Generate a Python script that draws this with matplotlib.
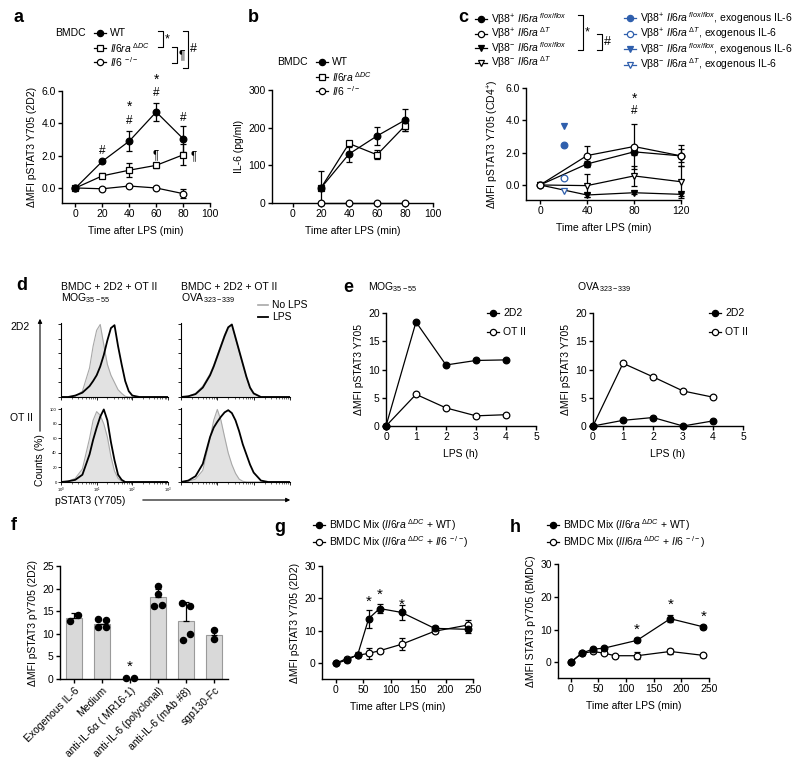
import numpy as np
import matplotlib.pyplot as plt

plt.rcParams['font.family'] = ['Liberation Sans', 'DejaVu Sans']
plt.rcParams['mathtext.fontset'] = 'custom'
plt.rcParams['mathtext.rm'] = 'Liberation Sans'
plt.rcParams['mathtext.it'] = 'Liberation Sans:italic'
plt.rcParams['mathtext.bf'] = 'Liberation Sans:bold'
plt.rcParams['font.size'] = 7.5

# ---- data ----
# a: pSTAT3 in 2D2 cells
a_time = [0, 20, 40, 60, 80]
a_wt = [0, 1.65, 2.9, 4.7, 3.05]
a_wt_err = [0, 0.1, 0.6, 0.55, 0.8]
a_il6ra = [0, 0.75, 1.1, 1.4, 2.05]
a_il6ra_err = [0, 0.15, 0.45, 0.15, 0.65]
a_il6 = [0, -0.05, 0.12, 0.0, -0.35]
a_il6_err = [0, 0.05, 0.05, 0.05, 0.3]

# b: IL-6 secretion
b_time = [20, 40, 60, 80]
b_wt = [40, 130, 178, 220]
b_wt_err = [45, 20, 25, 30]
b_il6ra = [40, 158, 128, 205]
b_il6ra_err = [5, 5, 12, 15]
b_il6 = [0, 0, 0, 0]

# c: CD4+ T cells
c_time = [0, 40, 80, 120]
c_pos_flox = [0, 1.3, 2.05, 1.8]
c_pos_flox_err = [0, 0.2, 0.2, 0.65]
c_pos_dt = [0, 1.82, 2.38, 1.8]
c_pos_dt_err = [0, 0.62, 1.4, 0.4]
c_neg_flox = [0, -0.62, -0.48, -0.58]
c_neg_flox_err = [0, 0.1, 0.1, 0.1]
c_neg_dt = [0, -0.04, 0.56, 0.2]
c_neg_dt_err = [0, 0.72, 0.6, 1.0]
c_exo_time = 20
c_exo = {'pos_flox': 2.46, 'pos_dt': 0.46, 'neg_flox': 3.66, 'neg_dt': -0.35}

# d: flow histograms (log10 fluorescence grid, counts %)
hist_log = [0.0, 0.2, 0.4, 0.6, 0.8, 0.9, 1.0, 1.1, 1.2, 1.3, 1.4, 1.5, 1.6, 1.7, 1.8, 1.9, 2.0, 2.2, 2.4, 3.0]
h2d2_mog_nolps = [0, 0, 1, 8, 40, 70, 92, 100, 72, 45, 30, 20, 10, 5, 1, 0, 0, 0, 0, 0]
h2d2_mog_lps = [0, 0, 2, 6, 15, 22, 30, 42, 58, 78, 95, 99, 70, 45, 22, 8, 2, 0, 0, 0]
h2d2_ova_nolps = [0, 1, 5, 15, 32, 44, 58, 72, 86, 97, 99, 80, 62, 44, 27, 12, 4, 0, 0, 0]
h2d2_ova_lps = [0, 1, 4, 13, 30, 42, 56, 70, 84, 96, 100, 82, 64, 46, 28, 13, 5, 0, 0, 0]
hot2_mog_nolps = [0, 1, 5, 18, 60, 85, 97, 92, 80, 62, 35, 15, 5, 1, 0, 0, 0, 0, 0, 0]
hot2_mog_lps = [0, 1, 3, 10, 38, 58, 75, 90, 100, 85, 55, 30, 10, 3, 0, 0, 0, 0, 0, 0]
hot2_ova_nolps = [0, 1, 4, 16, 60, 85, 100, 85, 62, 40, 24, 12, 4, 1, 0, 0, 0, 0, 0, 0]
hot2_ova_lps = [0, 2, 8, 25, 62, 75, 83, 90, 96, 99, 95, 85, 70, 52, 38, 24, 13, 2, 0, 0]

# e: time course (h)
e_time = [0, 1, 2, 3, 4]
e_mog_2d2 = [0, 18.4, 10.8, 11.6, 11.7]
e_mog_ot2 = [0, 5.6, 3.2, 1.8, 2.0]
e_ova_2d2 = [0, 1.0, 1.5, 0.0, 0.9]
e_ova_ot2 = [0, 11.1, 8.7, 6.2, 5.1]

# f: blocking
f_labels = ['Exogenous IL-6', 'Medium', 'anti-IL-6α ( MR16-1)', 'anti-IL-6 (polyclonal)',
            'anti-IL-6 (mAb #8)', 'sgp130-Fc']
f_means = [13.4, 12.1, 0.1, 18.1, 12.9, 9.7]
f_err = [1.1, 0.0, 0.0, 1.9, 4.2, 1.3]
f_points = [[12.8, 14.1], [13.3, 13.0, 11.4, 11.5], [0.3, 0.3],
            [20.6, 18.9, 16.1, 16.3], [16.8, 16.1, 10.0, 8.6], [10.8, 8.8]]

# g: BMDC mix, 2D2
g_time = [0, 20, 40, 60, 80, 120, 180, 240]
g_wt = [0, 1.0, 2.7, 13.8, 16.9, 15.7, 10.8, 10.5]
g_wt_err = [0, 0.5, 0.8, 2.8, 1.5, 2.2, 0.8, 1.0]
g_il6 = [0, 1.5, 2.5, 3.1, 3.9, 5.9, 9.9, 11.8]
g_il6_err = [0, 0.5, 0.5, 1.8, 0.6, 1.8, 0.6, 1.6]

# h: BMDC mix, BMDC
h_time_wt = [0, 20, 40, 60, 120, 180, 240]
h_wt = [0, 2.8, 4.0, 4.3, 6.7, 13.3, 10.8]
h_wt_err = [0, 0.5, 0.5, 0.5, 0.6, 1.0, 0.6]
h_time_il6 = [0, 20, 40, 60, 80, 120, 180, 240]
h_il6 = [0, 2.7, 3.3, 2.8, 2.0, 2.0, 3.3, 2.1]
h_il6_err = [0, 0.4, 0.5, 0.4, 0.3, 1.0, 0.9, 0.4]

BLUE = '#2f5fad'
W, H = 800, 767
fig = plt.figure(figsize=(8, 7.67), dpi=100)


def add_ax(l, t, r, b):
    return fig.add_axes([l / W, 1 - b / H, (r - l) / W, (b - t) / H])


def style(ax):
    for s in ['top', 'right']:
        ax.spines[s].set_visible(False)
    for s in ['left', 'bottom']:
        ax.spines[s].set_linewidth(1.0)
    ax.tick_params(length=3, width=1.0, labelsize=7.5, pad=1.5)
    ax.patch.set_alpha(0)


def series(ax, x, y, err, marker, fill, color='k', line=True):
    if err is not None:
        ax.errorbar(x, y, yerr=err, fmt='none', ecolor=color, elinewidth=0.9,
                    capsize=2.5, capthick=0.9, clip_on=False, zorder=2)
    ax.plot(x, y, color=color, lw=0.9 if line else 0, marker=marker, ms=4.8,
            mfc=color if fill else 'white', mec=color, mew=0.9, clip_on=False, zorder=3)


# ---- a ----
ax = add_ax(62, 91, 210, 203)
style(ax)
series(ax, a_time, a_il6, a_il6_err, 'o', False)
series(ax, a_time, a_il6ra, a_il6ra_err, 's', False)
series(ax, a_time, a_wt, a_wt_err, 'o', True)
ax.set_xlim(-10, 100)
ax.set_ylim(-0.93, 6)
ax.set_xticks(range(0, 101, 20))
ax.set_yticks([0, 2, 4, 6])
ax.set_yticklabels(['0.0', '2.0', '4.0', '6.0'])
ax.set_xlabel('Time after LPS (min)', labelpad=5)
ax.set_ylabel('ΔMFI pSTAT3 Y705 (2D2)', labelpad=3)
for x, y, s in [(20, 2.3, '#'), (40, 4.15, '#'), (40, 5.0, '*'), (60, 5.85, '#'),
                (60, 6.7, '*'), (80, 4.3, '#'), (60, 2.05, '¶'), (88, 1.95, '¶')]:
    ax.text(x, y, s, ha='center', va='center', fontsize=10 if s == '*' else 8.5, clip_on=False)

# ---- b ----
ax = add_ax(272, 90, 433, 203)
style(ax)
series(ax, b_time, b_il6, None, 'o', False)
series(ax, b_time, b_il6ra, b_il6ra_err, 's', False)
series(ax, b_time, b_wt, b_wt_err, 'o', True)
ax.set_xlim(-15, 100)
ax.set_ylim(0, 300)
ax.set_xticks(range(0, 101, 20))
ax.set_yticks([0, 100, 200, 300])
ax.set_xlabel('Time after LPS (min)', labelpad=5)
ax.set_ylabel('IL-6 (pg/ml)', labelpad=3)

# ---- c ----
ax = add_ax(526, 88, 681, 200)
style(ax)
series(ax, c_time, c_neg_dt, c_neg_dt_err, 'v', False)
series(ax, c_time, c_neg_flox, c_neg_flox_err, 'v', True)
series(ax, c_time, c_pos_flox, c_pos_flox_err, 'o', True)
series(ax, c_time, c_pos_dt, c_pos_dt_err, 'o', False)
for key, mk, fill in [('pos_flox', 'o', True), ('pos_dt', 'o', False),
                      ('neg_flox', 'v', True), ('neg_dt', 'v', False)]:
    series(ax, [c_exo_time], [c_exo[key]], None, mk, fill, color=BLUE, line=False)
ax.set_xlim(-12, 120)
ax.set_ylim(-0.93, 6)
ax.set_xticks([0, 40, 80, 120])
ax.set_yticks([0, 2, 4, 6])
ax.set_yticklabels(['0.0', '2.0', '4.0', '6.0'])
ax.set_xlabel('Time after LPS (min)', labelpad=5)
ax.set_ylabel('ΔMFI pSTAT3 Y705 (CD4$^{+}$)', labelpad=3)
ax.text(80, 4.55, '#', ha='center', va='center', fontsize=8.5)
ax.text(80, 5.35, '*', ha='center', va='center', fontsize=10)

# ---- d ----
hx = 10 ** np.array(hist_log)
d_boxes = [((61, 323, 168, 397), h2d2_mog_nolps, h2d2_mog_lps, False),
           ((181, 323, 290, 397), h2d2_ova_nolps, h2d2_ova_lps, False),
           ((61, 408, 168, 482), hot2_mog_nolps, hot2_mog_lps, True),
           ((181, 408, 290, 482), hot2_ova_nolps, hot2_ova_lps, False)]
for box, grey, black, labels in d_boxes:
    ax = add_ax(*box)
    style(ax)
    ax.fill_between(hx, grey, color='#e2e2e2', lw=0)
    ax.plot(hx, grey, color='#a8a8a8', lw=0.8)
    ax.plot(hx, black, color='k', lw=1.3)
    ax.set_xscale('log')
    ax.set_xlim(1, 1000)
    ax.set_ylim(0, 102)
    ax.set_xticks([1, 10, 100, 1000])
    ax.set_yticks(range(0, 101, 20))
    ax.tick_params(length=2, width=0.6, labelsize=3, pad=1)
    ax.tick_params(which='minor', length=1.2, width=0.4)
    ax.spines['left'].set_linewidth(0.8)
    ax.spines['bottom'].set_linewidth(0.8)
    if labels:
        ax.set_xticklabels(['10$^0$', '10$^1$', '10$^2$', '10$^3$'])
    else:
        ax.set_xticklabels([])
        ax.set_yticklabels([])

# ---- e ----
for box, y2d2, yot2 in [((386, 313, 536, 426), e_mog_2d2, e_mog_ot2),
                        ((593, 313, 743, 426), e_ova_2d2, e_ova_ot2)]:
    ax = add_ax(*box)
    style(ax)
    series(ax, e_time, yot2, None, 'o', False)
    series(ax, e_time, y2d2, None, 'o', True)
    ax.set_xlim(0, 5)
    ax.set_ylim(0, 20)
    ax.set_xticks(range(0, 6))
    ax.set_yticks([0, 5, 10, 15, 20])
    ax.set_xlabel('LPS (h)', labelpad=5)
    ax.set_ylabel('ΔMFI pSTAT3 Y705', labelpad=3)

# ---- f ----
ax = add_ax(60, 566, 228, 679)
style(ax)
xpos = np.arange(len(f_means))
ax.bar(xpos, f_means, width=0.58, color='#d9d9d9', edgecolor='#9a9a9a', lw=0.8, zorder=1)
ax.errorbar(xpos, f_means, yerr=[np.zeros(len(f_err)), f_err], fmt='none', ecolor='k',
            elinewidth=0.9, capsize=2.5, capthick=0.9, zorder=2)
jit = [[-0.14, 0.14], [-0.16, 0.14, -0.16, 0.14], [-0.14, 0.14],
       [0.0, 0.0, -0.15, 0.14], [-0.13, 0.14, 0.14, -0.12], [0.0, 0.0]]
for i, pts in enumerate(f_points):
    ax.plot(i + np.array(jit[i]), pts, 'o', color='k', ms=4.4, zorder=3, clip_on=False)
ax.text(2, 2.7, '*', ha='center', va='center', fontsize=11)
ax.set_xlim(-0.5, 5.5)
ax.set_ylim(0, 25)
ax.set_yticks(range(0, 26, 5))
ax.set_xticks(xpos)
ax.set_xticklabels(f_labels, rotation=45, ha='right', rotation_mode='anchor')
ax.set_ylabel('ΔMFI pSTAT3 pY705 (2D2)', labelpad=3)

# ---- g ----
ax = add_ax(322, 566, 473, 679)
style(ax)
series(ax, g_time, g_il6, g_il6_err, 'o', False)
series(ax, g_time, g_wt, g_wt_err, 'o', True)
for x, y in [(60, 19.0), (80, 21.0), (120, 18.0)]:
    ax.text(x, y, '*', ha='center', va='center', fontsize=11)
ax.set_xlim(-25, 250)
ax.set_ylim(-4.8, 30)
ax.set_xticks(range(0, 251, 50))
ax.set_yticks([0, 10, 20, 30])
ax.set_xlabel('Time after LPS (min)', labelpad=5)
ax.set_ylabel('ΔMFI pSTAT3 Y705 (2D2)', labelpad=3)

# ---- h ----
ax = add_ax(558, 564, 709, 678)
style(ax)
series(ax, h_time_il6, h_il6, h_il6_err, 'o', False)
series(ax, h_time_wt, h_wt, h_wt_err, 'o', True)
for x, y in [(120, 10.0), (180, 17.5), (240, 14.0)]:
    ax.text(x, y, '*', ha='center', va='center', fontsize=11)
ax.set_xlim(-23, 250)
ax.set_ylim(-4.8, 30)
ax.set_xticks(range(0, 251, 50))
ax.set_yticks([0, 10, 20, 30])
ax.set_xlabel('Time after LPS (min)', labelpad=5)
ax.set_ylabel('ΔMFI STAT3 pY705 (BMDC)', labelpad=3)

# ---- overlay: letters, legends, brackets ----
ov = fig.add_axes([0, 0, 1, 1])
ov.set_xlim(0, W)
ov.set_ylim(H, 0)
ov.axis('off')


def leg(x, y, marker, fill, label, color='k'):
    ov.plot([x - 6, x + 6], [y, y], color=color, lw=0.9)
    ov.plot([x], [y], marker=marker, ms=4.5, mfc=color if fill else 'white', mec=color, mew=0.9)
    ov.text(x + 10, y, label, va='center', ha='left', fontsize=7.5)


def bracket(x, y0, y1, s, dx=5):
    ov.plot([x - dx, x, x, x - dx], [y0, y0, y1, y1], color='k', lw=0.8)
    ov.text(x + 2, (y0 + y1) / 2, s, ha='left', va='center', fontsize=9)


for s, x, y in [('a', 18, 18), ('b', 253, 18), ('c', 463, 18), ('d', 22, 286),
                ('e', 348, 287), ('f', 14, 525), ('g', 280, 527), ('h', 515, 527)]:
    ov.text(x, y, s, fontsize=13, fontweight='bold', ha='center', va='center')

il6ra = r'$\mathit{Il6ra}^{\ \Delta DC}$'
il6 = r'$\mathit{Il6}^{\ -/-}$'
# a legend
ov.text(55, 33, 'BMDC', ha='left', va='center')
leg(100, 33, 'o', True, 'WT')
leg(100, 48, 's', False, il6ra)
leg(100, 62, 'o', False, il6)
bracket(163, 31, 47, '*')
bracket(177, 47, 63, '¶')
bracket(188, 31, 68, '#')
# b legend
ov.text(277, 62, 'BMDC', ha='left', va='center')
leg(322, 62, 'o', True, 'WT')
leg(322, 77, 's', False, il6ra)
leg(322, 91, 'o', False, il6)
# c legend
c_left = [('o', True, r'Vβ8$^{+}$ $\mathit{Il6ra}^{\ flox/flox}$'),
          ('o', False, r'Vβ8$^{+}$ $\mathit{Il6ra}^{\ \Delta T}$'),
          ('v', True, r'Vβ8$^{-}$ $\mathit{Il6ra}^{\ flox/flox}$'),
          ('v', False, r'Vβ8$^{-}$ $\mathit{Il6ra}^{\ \Delta T}$')]
for i, (mk, fill, lab) in enumerate(c_left):
    leg(481, 19 + 14.5 * i, mk, fill, lab)
    leg(630, 18 + 15.5 * i, mk, fill, lab + ', exogenous IL-6', color=BLUE)
bracket(583, 15, 50, '*')
bracket(602, 34, 50, '#')
# d annotations
ov.text(61, 287, 'BMDC + 2D2 + OT II', ha='left', va='center')
ov.text(61, 298, r'MOG$_{\mathregular{35-55}}$', ha='left', va='center')
ov.text(181, 287, 'BMDC + 2D2 + OT II', ha='left', va='center')
ov.text(181, 298, r'OVA$_{\mathregular{323-339}}$', ha='left', va='center')
ov.plot([258, 268], [305, 305], color='#a8a8a8', lw=1.2)
ov.text(272, 305, 'No LPS', ha='left', va='center')
ov.plot([258, 268], [317, 317], color='k', lw=1.3)
ov.text(272, 317, 'LPS', ha='left', va='center')
ov.text(10, 327, '2D2', ha='left', va='center')
ov.text(10, 418, 'OT II', ha='left', va='center')
ov.annotate('', xy=(40, 316), xytext=(40, 434),
            arrowprops=dict(arrowstyle='-|>', color='k', lw=0.8, mutation_scale=6))
ov.text(40, 460, 'Counts (%)', rotation=90, ha='center', va='center')
ov.text(55, 501, 'pSTAT3 (Y705)', ha='left', va='center')
ov.annotate('', xy=(293, 500), xytext=(140, 500),
            arrowprops=dict(arrowstyle='-|>', color='k', lw=0.8, mutation_scale=6))
# e titles and legends
ov.text(368, 287, r'MOG$_{\mathregular{35-55}}$', ha='left', va='center')
ov.text(577, 287, r'OVA$_{\mathregular{323-339}}$', ha='left', va='center')
for mx in [493, 715]:
    leg(mx, 313, 'o', True, '2D2')
    leg(mx, 332, 'o', False, 'OT II')
# g/h legends
leg(319, 525, 'o', True, r'BMDC Mix ($\mathit{Il6ra}^{\ \Delta DC}$ + WT)')
leg(319, 542, 'o', False, r'BMDC Mix ($\mathit{Il6ra}^{\ \Delta DC}$ + $\mathit{Il6}^{\ -/-}$)')
leg(553, 525, 'o', True, r'BMDC Mix ($\mathit{Il6ra}^{\ \Delta DC}$ + WT)')
leg(553, 542, 'o', False, r'BMDC Mix ($\mathit{Ill6ra}^{\ \Delta DC}$ + $\mathit{Il6}^{\ -/-}$)')

fig.savefig('out.png', dpi=100)
